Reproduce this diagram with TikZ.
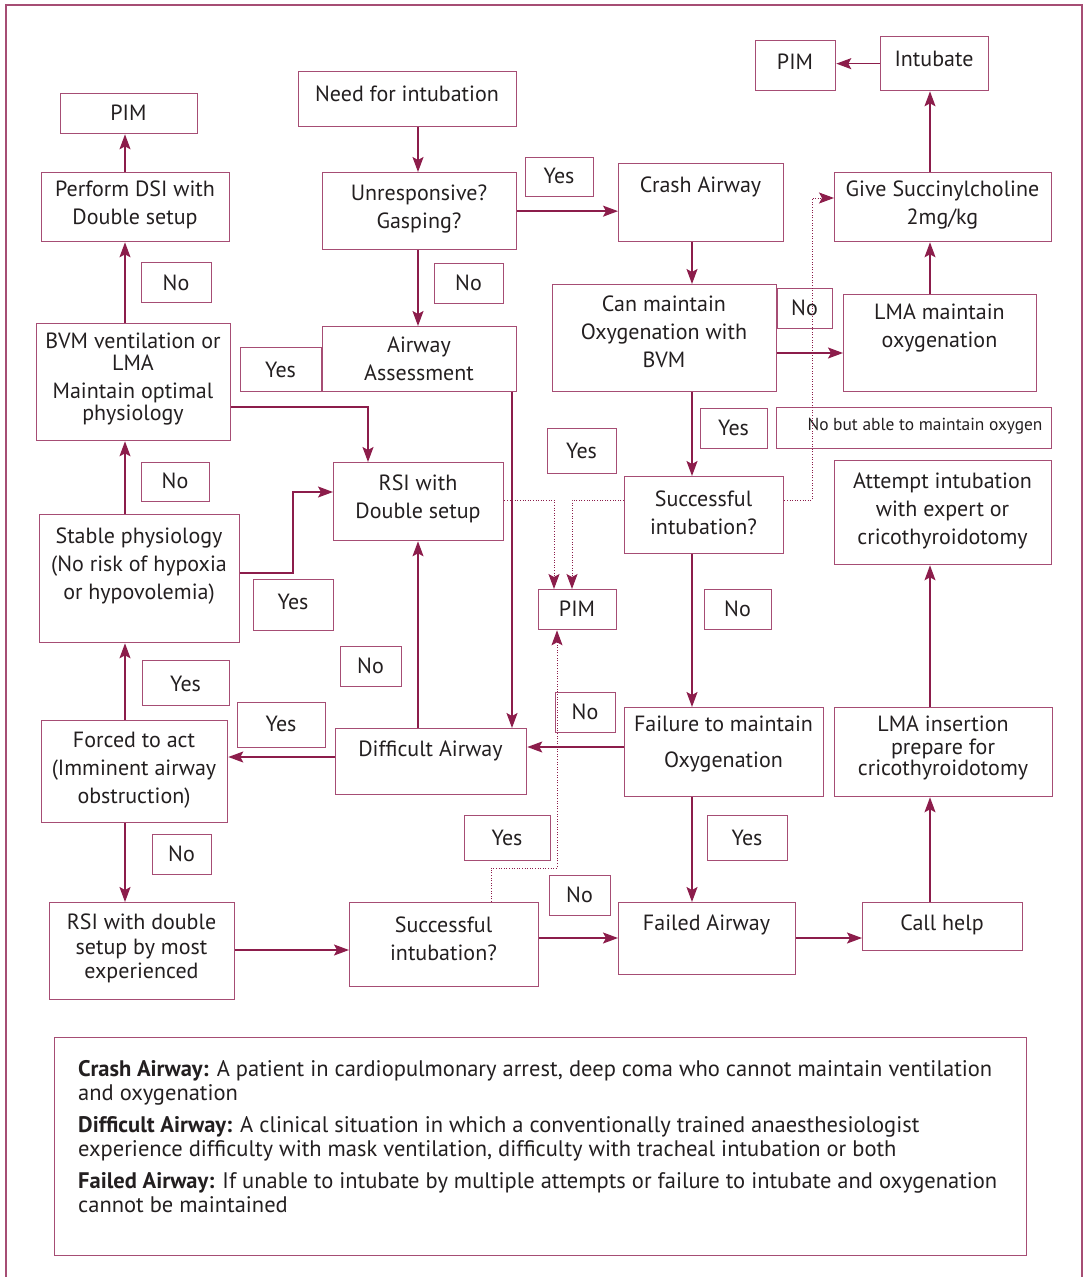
\documentclass[tikz,border=0pt]{standalone}
\usepackage{fontspec}
\setmainfont{PT Sans}
\usetikzlibrary{arrows.meta}
\definecolor{boxc}{HTML}{A64D74}
\definecolor{arrc}{HTML}{8C1D4B}
\definecolor{txtc}{HTML}{231F20}
\newcommand\mybox[7]{%
  \node[box, anchor=north west, minimum width={#4pt-#2pt}, minimum height={#5pt-#3pt}] (#1) at (#2,#3) {};
  \node[txt] (#1-t) at ({(#2+#4)/2},#6) {#7};}
\begin{document}
\begin{tikzpicture}[x=1pt,y=-1pt,
  box/.style={draw=boxc, line width=1.3pt, inner sep=0pt},
  txt/.style={text=txtc, align=center, inner sep=0pt, font=\fontsize{22}{28}\selectfont},
  arr/.style={draw=arrc, line width=1.5pt, -{Stealth[length=15pt,width=11pt,inset=3pt]}},
  ln/.style={draw=arrc, line width=1.5pt},
  dot/.style={draw=arrc, line width=1pt, dash pattern=on 1pt off 1.6pt, -{Stealth[length=15pt,width=11pt,inset=3pt]}}]
\useasboundingbox (0,0) rectangle (1083,1277);
\draw[boxc, line width=1.5pt] (6,1277) -- (6,5) -- (1082,5) -- (1082,1277);
% helper coordinates
\coordinate (c125) at (125,0);
\coordinate (c293) at (293,0);
\coordinate (c368) at (368,0);
\coordinate (c418) at (418,0);
\coordinate (c491) at (491,0);
\coordinate (c512) at (512,0);
\coordinate (c554) at (554,0);
\coordinate (c557) at (557,0);
\coordinate (c572) at (572,0);
\coordinate (c692) at (692,0);
\coordinate (c812) at (812,0);
\coordinate (c930) at (930,0);
\coordinate (r198) at (0,198);
\coordinate (r353) at (0,353);
\coordinate (r407) at (0,407);
\coordinate (r492) at (0,492);
\coordinate (r500) at (0,500);
\coordinate (r573) at (0,573);
\coordinate (r747) at (0,747);
\coordinate (r757) at (0,757);
\coordinate (r868) at (0,868);
\coordinate (r938) at (0,938);
\coordinate (r950) at (0,950);
% boxes
\mybox{need}{298}{71}{516}{126}{94}{Need for intubation}
\mybox{unresp}{322}{172}{516}{249}{209}{Unresponsive?\\Gasping?}
\mybox{yes1}{525}{157}{593}{196}{176}{Yes}
\mybox{crash}{618}{163}{783}{241}{187}{Crash Airway}
\mybox{pim1}{755}{40}{835}{90}{62}{PIM}
\mybox{intub}{880}{36}{988}{90}{59}{Intubate}
\mybox{succ}{834}{172}{1051}{241}{205}{Give Succinylcholine\\2mg/kg}
\mybox{lmao}{843}{294}{1036}{391}{328}{LMA maintain\\oxygenation}
\mybox{no1}{777}{288}{832}{328}{308}{No}
\mybox{canm}{552}{284}{776}{391}{332}{Can maintain\\Oxygenation with\\BVM}
\mybox{nobut}{776}{407}{1051}{448}{426}{}
\node[txt, font=\fontsize{17.4}{20}\selectfont] (nobut-t) at (925,426) {No but able to maintain oxygen};
\mybox{yes2}{700}{408}{767}{448}{428}{Yes}
\mybox{sint1}{624}{476}{783}{553}{513}{Successful\\intubation?}
\mybox{attempt}{834}{460}{1051}{564}{511}{Attempt intubation\\with expert or\\cricothyroidotomy}
\mybox{pim2}{538}{589}{616}{629}{609}{PIM}
\mybox{yes3}{547}{428}{616}{473}{451}{Yes}
\mybox{no2}{704}{589}{771}{629}{609}{No}
\mybox{rsi}{333}{462}{503}{540}{499}{RSI with\\Double setup}
\mybox{aa}{322}{326}{516}{391}{359}{Airway\\Assessment}
\mybox{yes4}{240}{347}{321}{391}{370}{Yes}
\mybox{no3}{434}{263}{503}{303}{283}{No}
\mybox{bvm}{36}{323}{230}{440}{379}{BVM ventilation or\\[-6pt]LMA\\Maintain optimal\\[-6pt]physiology}
\mybox{no4}{141}{462}{209}{501}{481}{No}
\mybox{stable}{39}{514}{239}{642}{566}{Stable physiology\\(No risk of hypoxia\\or hypovolemia)}
\mybox{yes5}{253}{579}{333}{630}{602}{Yes}
\mybox{dsi}{41}{172}{229}{241}{205}{Perform DSI with\\Double setup}
\mybox{pim3}{60}{93}{197}{133}{113}{PIM}
\mybox{no5}{141}{262}{211}{302}{283}{No}
\mybox{yes6}{142}{660}{229}{705}{684}{Yes}
\mybox{forced}{41}{720}{227}{822}{770.5}{Forced to act\\(Imminent airway\\obstruction)}
\mybox{yes7}{237}{702}{325}{747}{724}{Yes}
\mybox{diff}{335}{728}{526}{794}{751}{Difficult Airway}
\mybox{no6}{340}{646}{401}{686}{666}{No}
\mybox{no7}{555}{692}{615}{732}{712}{No}
\mybox{fail}{624}{707}{823}{796}{744}{Failure to maintain\\[8pt]Oxygenation}
\mybox{lmai}{834}{707}{1052}{796}{748}{LMA insertion\\[-5pt]prepare for\\[-7pt]cricothyroidotomy}
\mybox{yes8}{707}{815}{787}{860}{838}{Yes}
\mybox{failed}{618}{902}{795}{974}{925}{Failed Airway}
\mybox{callh}{862}{902}{1022}{950}{925}{Call help}
\mybox{no8}{549}{875}{610}{915}{895}{No}
\mybox{yes9}{464}{815}{550}{860}{838}{Yes}
\mybox{sint2}{349}{902}{538}{986}{939}{Successful\\intubation?}
\mybox{rsie}{49}{902}{234}{999}{948.5}{RSI with double\\[-3pt]setup by most\\[-4pt]experienced}
\mybox{no9}{152}{834}{211}{874}{854}{No}
% legend
\node[box, anchor=north west, minimum width=972pt, minimum height=218pt] (legend) at (54,1037) {};
\node[text=txtc, anchor=north west, inner sep=0pt, align=left, font=\fontsize{22.5}{24}\selectfont] (legend-t) at (78,1060)
 {\textbf{Crash Airway:} A patient in cardiopulmonary arrest, deep coma who cannot maintain ventilation\\
  and oxygenation\\[8pt]
  \textbf{Difficult Airway:} A clinical situation in which a conventionally trained anaesthesiologist\\
  experience difficulty with mask ventilation, difficulty with tracheal intubation or both\\[8pt]
  \textbf{Failed Airway:} If unable to intubate by multiple attempts or failure to intubate and oxygenation\\
  cannot be maintained};
% connectors
\draw[arr] (c418 |- need.south) -- (c418 |- unresp.north);
\draw[arr] (c418 |- unresp.south) -- (c418 |- aa.north);
\draw[arr] (unresp.east) -- (unresp.east -| crash.west);
\draw[arr] (c692 |- crash.south) -- (c692 |- canm.north);
\draw[arr] (c692 |- canm.south) -- (c692 |- sint1.north);
\draw[arr] (c692 |- sint1.south) -- (c692 |- fail.north);
\draw[arr] (c692 |- fail.south) -- (c692 |- failed.north);
\draw[arr] (canm.east |- r353) -- (lmao.west |- r353);
\draw[arr] (c930 |- lmao.north) -- (c930 |- succ.south);
\draw[arr] (c930 |- succ.north) -- (c930 |- intub.south);
\draw[arr] (intub.west) -- (intub.west -| pim1.east);
\draw[arr] (fail.west |- r747) -- (diff.east |- r747);
\draw[arr] (failed.east |- r938) -- (callh.west |- r938);
\draw[arr] (c930 |- callh.north) -- (c930 |- lmai.south);
\draw[arr] (c930 |- lmai.north) -- (c930 |- attempt.south);
\draw[arr] (c512 |- aa.south) -- (c512 |- diff.north);
\draw[arr] (bvm.east |- r407) -| (c368 |- rsi.north);
\draw[arr] (stable.east |- r573) -| (c293 |- r492) -- (rsi.west |- r492);
\draw[arr] (c125 |- stable.north) -- (c125 |- bvm.south);
\draw[arr] (c125 |- forced.north) -- (c125 |- stable.south);
\draw[arr] (c125 |- forced.south) -- (c125 |- rsie.north);
\draw[arr] (c125 |- dsi.north) -- (c125 |- pim3.south);
\draw[arr] (c125 |- bvm.north) -- (c125 |- dsi.south);
\draw[arr] (diff.west |- r757) -- (forced.east |- r757);
\draw[arr] (c418 |- diff.north) -- (c418 |- rsi.south);
\draw[arr] (rsie.east |- r950) -- (sint2.west |- r950);
\draw[arr] (sint2.east |- r938) -- (failed.west |- r938);
% dotted
\draw[dot] (sint1.east |- r500) -| (c812 |- r198) -- (succ.west |- r198);
\draw[dot] (sint1.west |- r500) -| (c572 |- pim2.north);
\draw[dot] (rsi.east |- r500) -| (c554 |- pim2.north);
\draw[dot] (c491 |- sint2.north) |- (c557 |- r868) -- (c557 |- pim2.south);
\end{tikzpicture}
\end{document}
